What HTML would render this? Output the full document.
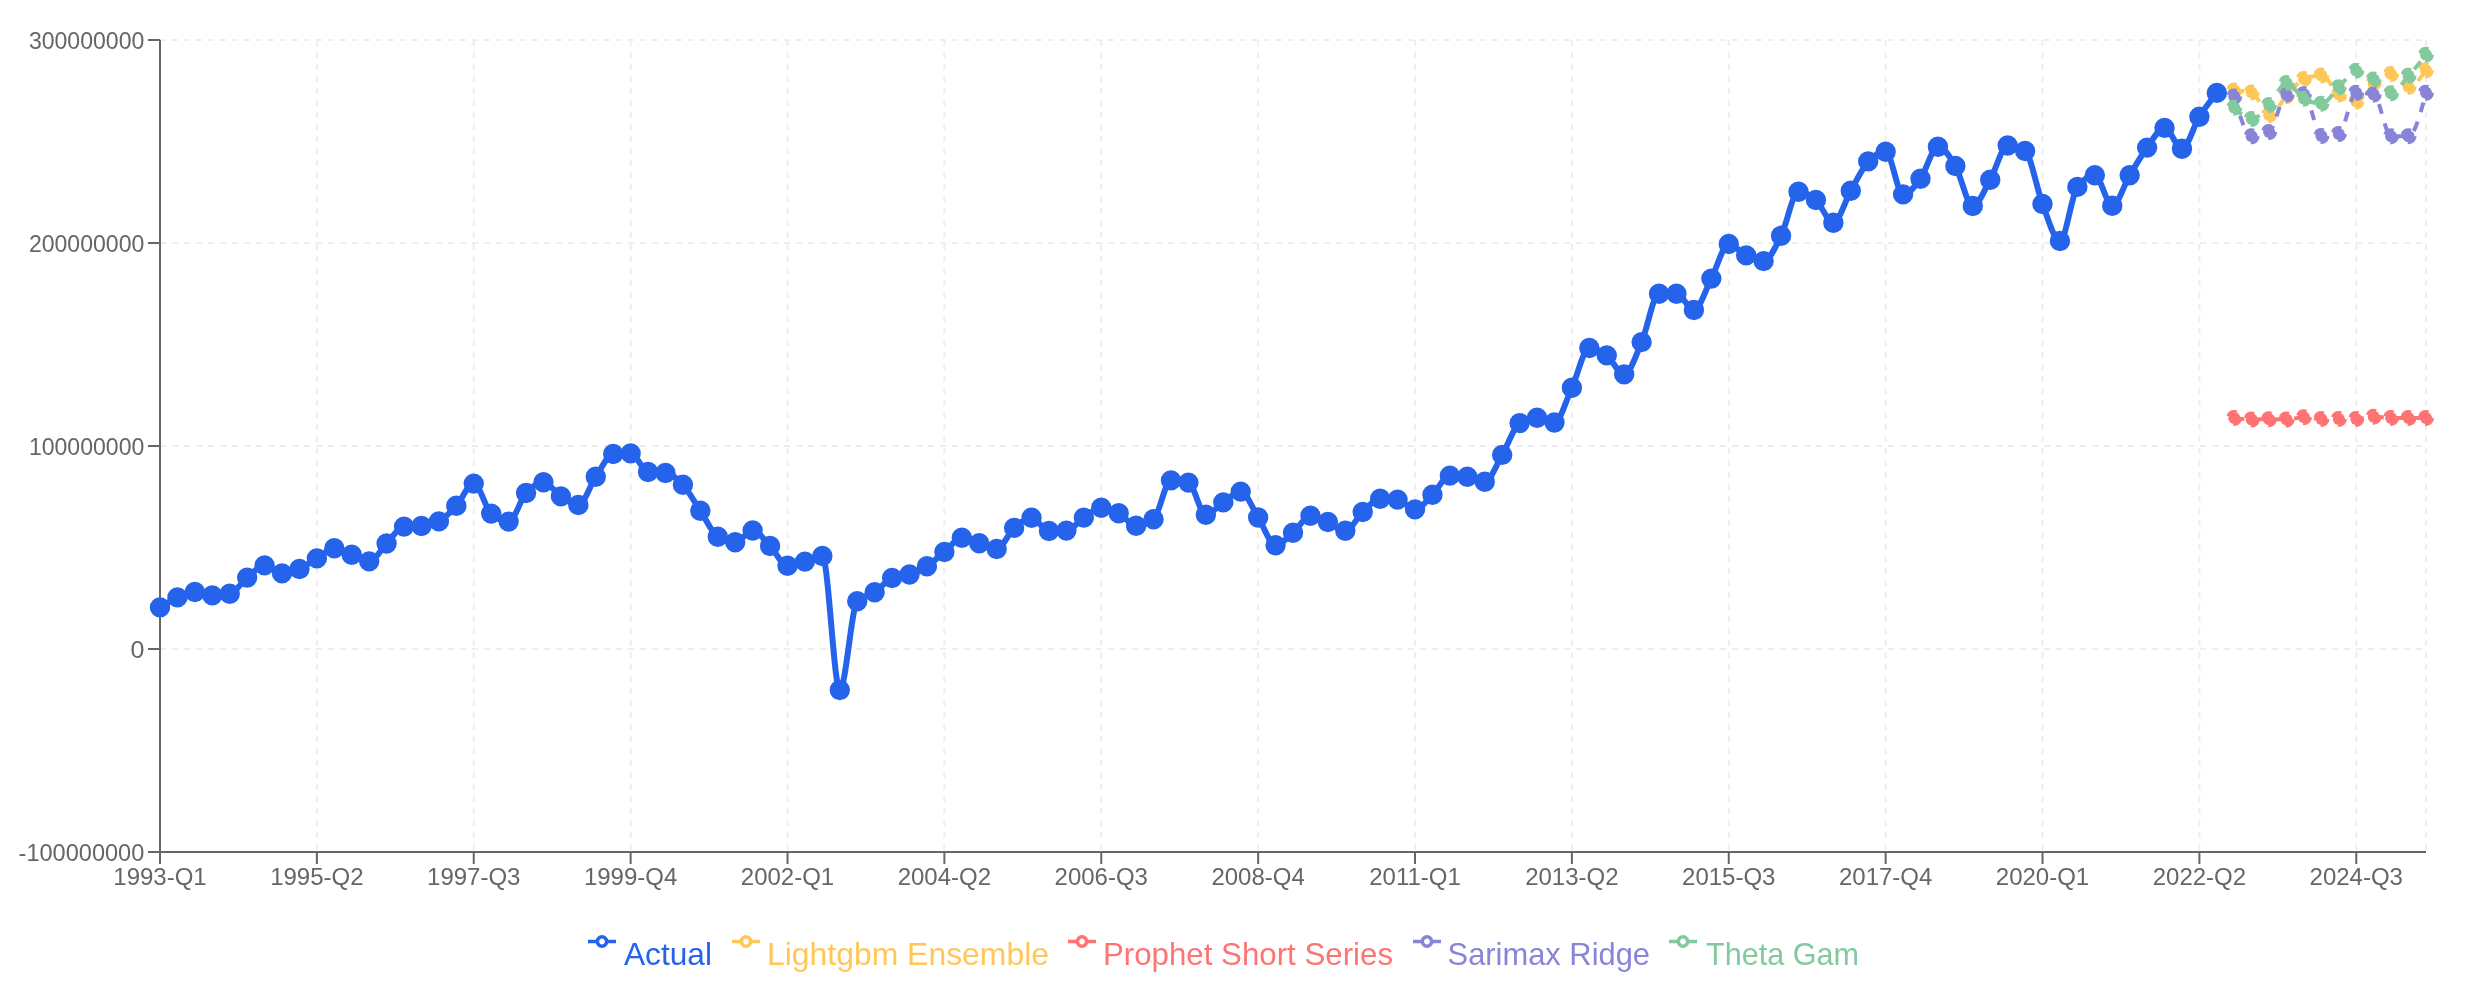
<!DOCTYPE html><html><head><meta charset="utf-8"><style>html,body{margin:0;padding:0;background:#fff;width:2486px;height:1000px;overflow:hidden}svg{display:block;will-change:transform}</style></head><body>
<svg width="2486" height="1000" viewBox="0 0 2486 1000" style="font-family:'Liberation Sans', sans-serif">
<g stroke="#eeeeee" stroke-width="2" stroke-dasharray="6 6" fill="none">
<line x1="160" y1="40.00" x2="2426" y2="40.00"/>
<line x1="160" y1="243.00" x2="2426" y2="243.00"/>
<line x1="160" y1="446.00" x2="2426" y2="446.00"/>
<line x1="160" y1="649.00" x2="2426" y2="649.00"/>
<line x1="160" y1="852.00" x2="2426" y2="852.00"/>
<line x1="160.00" y1="40" x2="160.00" y2="851"/>
<line x1="316.88" y1="40" x2="316.88" y2="851"/>
<line x1="473.75" y1="40" x2="473.75" y2="851"/>
<line x1="630.63" y1="40" x2="630.63" y2="851"/>
<line x1="787.51" y1="40" x2="787.51" y2="851"/>
<line x1="944.38" y1="40" x2="944.38" y2="851"/>
<line x1="1101.26" y1="40" x2="1101.26" y2="851"/>
<line x1="1258.14" y1="40" x2="1258.14" y2="851"/>
<line x1="1415.02" y1="40" x2="1415.02" y2="851"/>
<line x1="1571.89" y1="40" x2="1571.89" y2="851"/>
<line x1="1728.77" y1="40" x2="1728.77" y2="851"/>
<line x1="1885.65" y1="40" x2="1885.65" y2="851"/>
<line x1="2042.52" y1="40" x2="2042.52" y2="851"/>
<line x1="2199.40" y1="40" x2="2199.40" y2="851"/>
<line x1="2356.28" y1="40" x2="2356.28" y2="851"/>
<line x1="2426.00" y1="40" x2="2426.00" y2="851"/>
</g>
<g stroke="#666" stroke-width="2" fill="none">
<line x1="160" y1="852" x2="2426" y2="852"/>
<line x1="160" y1="40" x2="160" y2="852"/>
<line x1="148" y1="40.00" x2="160" y2="40.00"/>
<line x1="148" y1="243.00" x2="160" y2="243.00"/>
<line x1="148" y1="446.00" x2="160" y2="446.00"/>
<line x1="148" y1="649.00" x2="160" y2="649.00"/>
<line x1="148" y1="852.00" x2="160" y2="852.00"/>
<line x1="160.00" y1="852" x2="160.00" y2="864"/>
<line x1="316.88" y1="852" x2="316.88" y2="864"/>
<line x1="473.75" y1="852" x2="473.75" y2="864"/>
<line x1="630.63" y1="852" x2="630.63" y2="864"/>
<line x1="787.51" y1="852" x2="787.51" y2="864"/>
<line x1="944.38" y1="852" x2="944.38" y2="864"/>
<line x1="1101.26" y1="852" x2="1101.26" y2="864"/>
<line x1="1258.14" y1="852" x2="1258.14" y2="864"/>
<line x1="1415.02" y1="852" x2="1415.02" y2="864"/>
<line x1="1571.89" y1="852" x2="1571.89" y2="864"/>
<line x1="1728.77" y1="852" x2="1728.77" y2="864"/>
<line x1="1885.65" y1="852" x2="1885.65" y2="864"/>
<line x1="2042.52" y1="852" x2="2042.52" y2="864"/>
<line x1="2199.40" y1="852" x2="2199.40" y2="864"/>
<line x1="2356.28" y1="852" x2="2356.28" y2="864"/>
</g>
<g fill="#666" font-size="24">
<text x="144.3" y="49.00" text-anchor="end" textLength="115.4" lengthAdjust="spacingAndGlyphs">300000000</text>
<text x="144.3" y="252.00" text-anchor="end" textLength="115.4" lengthAdjust="spacingAndGlyphs">200000000</text>
<text x="144.3" y="455.00" text-anchor="end" textLength="115.4" lengthAdjust="spacingAndGlyphs">100000000</text>
<text x="144.3" y="658.00" text-anchor="end" textLength="13.9" lengthAdjust="spacingAndGlyphs">0</text>
<text x="144.3" y="861.00" text-anchor="end" textLength="125.7" lengthAdjust="spacingAndGlyphs">-100000000</text>
<text x="160.00" y="885" text-anchor="middle">1993-Q1</text>
<text x="316.88" y="885" text-anchor="middle">1995-Q2</text>
<text x="473.75" y="885" text-anchor="middle">1997-Q3</text>
<text x="630.63" y="885" text-anchor="middle">1999-Q4</text>
<text x="787.51" y="885" text-anchor="middle">2002-Q1</text>
<text x="944.38" y="885" text-anchor="middle">2004-Q2</text>
<text x="1101.26" y="885" text-anchor="middle">2006-Q3</text>
<text x="1258.14" y="885" text-anchor="middle">2008-Q4</text>
<text x="1415.02" y="885" text-anchor="middle">2011-Q1</text>
<text x="1571.89" y="885" text-anchor="middle">2013-Q2</text>
<text x="1728.77" y="885" text-anchor="middle">2015-Q3</text>
<text x="1885.65" y="885" text-anchor="middle">2017-Q4</text>
<text x="2042.52" y="885" text-anchor="middle">2020-Q1</text>
<text x="2199.40" y="885" text-anchor="middle">2022-Q2</text>
<text x="2356.28" y="885" text-anchor="middle">2024-Q3</text>
</g>
<path d="M160.00,607.40C165.81,603.68,171.62,599.97,177.43,597.40C183.24,594.83,189.05,592.00,194.86,592.00C200.67,592.00,206.48,595.40,212.29,595.40C218.10,595.40,223.91,594.87,229.72,593.80C235.53,592.73,241.34,582.33,247.15,577.60C252.96,572.87,258.77,565.40,264.58,565.40C270.39,565.40,276.21,573.40,282.02,573.40C287.83,573.40,293.64,571.50,299.45,569.00C305.26,566.50,311.07,561.87,316.88,558.40C322.69,554.93,328.50,548.20,334.31,548.20C340.12,548.20,345.93,552.60,351.74,554.80C357.55,557.00,363.36,561.40,369.17,561.40C374.98,561.40,380.79,549.30,386.60,543.50C392.41,537.70,398.22,527.00,404.03,526.60C409.84,526.20,415.65,526.40,421.46,526.00C427.27,525.60,433.08,524.47,438.89,521.40C444.70,518.33,450.51,512.10,456.32,505.80C462.13,499.50,467.94,483.60,473.75,483.60C479.56,483.60,485.37,508.27,491.18,513.60C496.99,518.93,502.81,521.60,508.62,521.60C514.43,521.60,520.24,499.57,526.05,493.00C531.86,486.43,537.67,482.20,543.48,482.20C549.29,482.20,555.10,492.60,560.91,496.40C566.72,500.20,572.53,505.00,578.34,505.00C584.15,505.00,589.96,485.30,595.77,476.80C601.58,468.30,607.39,454.40,613.20,454.00C619.01,453.60,624.82,453.40,630.63,453.40C636.44,453.40,642.25,471.33,648.06,472.00C653.87,472.67,659.68,472.33,665.49,473.00C671.30,473.67,677.11,478.40,682.92,484.70C688.73,491.00,694.54,502.12,700.35,510.80C706.16,519.48,711.97,533.13,717.78,536.80C723.59,540.47,729.41,542.30,735.22,542.30C741.03,542.30,746.84,530.50,752.65,530.50C758.46,530.50,764.27,540.13,770.08,546.00C775.89,551.87,781.70,565.70,787.51,565.70C793.32,565.70,799.13,563.22,804.94,561.60C810.75,559.98,816.56,556.00,822.37,556.00C828.18,556.00,833.99,690.00,839.80,690.00C845.61,690.00,851.42,607.37,857.23,601.30C863.04,595.23,868.85,596.08,874.66,592.20C880.47,588.32,886.28,580.33,892.09,578.00C897.90,575.67,903.71,576.47,909.52,574.50C915.33,572.53,921.14,569.95,926.95,566.20C932.76,562.45,938.57,556.75,944.38,552.00C950.19,547.25,956.01,537.70,961.82,537.70C967.63,537.70,973.44,541.32,979.25,543.20C985.06,545.08,990.87,549.00,996.68,549.00C1002.49,549.00,1008.30,533.10,1014.11,527.90C1019.92,522.70,1025.73,517.80,1031.54,517.80C1037.35,517.80,1043.16,531.00,1048.97,531.00C1054.78,531.00,1060.59,530.87,1066.40,530.60C1072.21,530.33,1078.02,521.40,1083.83,517.60C1089.64,513.80,1095.45,507.80,1101.26,507.80C1107.07,507.80,1112.88,510.20,1118.69,513.20C1124.50,516.20,1130.31,525.80,1136.12,525.80C1141.93,525.80,1147.74,523.60,1153.55,519.20C1159.36,514.80,1165.17,480.40,1170.98,480.40C1176.79,480.40,1182.61,481.13,1188.42,482.60C1194.23,484.07,1200.04,514.80,1205.85,514.80C1211.66,514.80,1217.47,506.27,1223.28,502.40C1229.09,498.53,1234.90,491.60,1240.71,491.60C1246.52,491.60,1252.33,508.57,1258.14,517.50C1263.95,526.43,1269.76,545.20,1275.57,545.20C1281.38,545.20,1287.19,537.70,1293.00,532.80C1298.81,527.90,1304.62,515.80,1310.43,515.80C1316.24,515.80,1322.05,519.50,1327.86,522.00C1333.67,524.50,1339.48,530.80,1345.29,530.80C1351.10,530.80,1356.91,517.33,1362.72,512.00C1368.53,506.67,1374.34,498.80,1380.15,498.80C1385.96,498.80,1391.77,499.07,1397.58,499.60C1403.39,500.13,1409.21,509.40,1415.02,509.40C1420.83,509.40,1426.64,500.43,1432.45,494.80C1438.26,489.17,1444.07,475.60,1449.88,475.60C1455.69,475.60,1461.50,476.00,1467.31,476.80C1473.12,477.60,1478.93,481.80,1484.74,481.80C1490.55,481.80,1496.36,464.68,1502.17,454.90C1507.98,445.12,1513.79,426.63,1519.60,423.10C1525.41,419.57,1531.22,417.80,1537.03,417.80C1542.84,417.80,1548.65,422.50,1554.46,422.50C1560.27,422.50,1566.08,400.12,1571.89,387.70C1577.70,375.28,1583.51,348.00,1589.32,348.00C1595.13,348.00,1600.94,351.00,1606.75,355.40C1612.56,359.80,1618.37,374.40,1624.18,374.40C1629.99,374.40,1635.81,355.55,1641.62,342.10C1647.43,328.65,1653.24,293.70,1659.05,293.70C1664.86,293.70,1670.67,293.70,1676.48,293.70C1682.29,293.70,1688.10,310.00,1693.91,310.00C1699.72,310.00,1705.53,289.60,1711.34,278.60C1717.15,267.60,1722.96,244.00,1728.77,244.00C1734.58,244.00,1740.39,252.55,1746.20,255.40C1752.01,258.25,1757.82,261.10,1763.63,261.10C1769.44,261.10,1775.25,247.35,1781.06,235.80C1786.87,224.25,1792.68,191.80,1798.49,191.80C1804.30,191.80,1810.11,194.85,1815.92,200.00C1821.73,205.15,1827.54,222.70,1833.35,222.70C1839.16,222.70,1844.97,201.02,1850.78,190.80C1856.59,180.58,1862.41,167.80,1868.22,161.40C1874.03,155.00,1879.84,151.80,1885.65,151.80C1891.46,151.80,1897.27,194.40,1903.08,194.40C1908.89,194.40,1914.70,186.65,1920.51,178.70C1926.32,170.75,1932.13,146.70,1937.94,146.70C1943.75,146.70,1949.56,156.12,1955.37,166.00C1961.18,175.88,1966.99,206.00,1972.80,206.00C1978.61,206.00,1984.42,189.78,1990.23,179.70C1996.04,169.62,2001.85,145.50,2007.66,145.50C2013.47,145.50,2019.28,147.33,2025.09,151.00C2030.90,154.67,2036.71,189.00,2042.52,204.00C2048.33,219.00,2054.14,241.00,2059.95,241.00C2065.76,241.00,2071.57,194.63,2077.38,186.90C2083.19,179.17,2089.01,175.30,2094.82,175.30C2100.63,175.30,2106.44,205.70,2112.25,205.70C2118.06,205.70,2123.87,184.98,2129.68,175.30C2135.49,165.62,2141.30,155.50,2147.11,147.60C2152.92,139.70,2158.73,127.90,2164.54,127.90C2170.35,127.90,2176.16,148.70,2181.97,148.70C2187.78,148.70,2193.59,126.00,2199.40,116.70C2205.21,107.40,2211.02,100.15,2216.83,92.90" fill="none" stroke="#2563eb" stroke-width="6" stroke-linejoin="round"/>
<g fill="#2563eb" stroke="#2563eb" stroke-width="6">
<circle cx="160.00" cy="607.40" r="7.2"/>
<circle cx="177.43" cy="597.40" r="7.2"/>
<circle cx="194.86" cy="592.00" r="7.2"/>
<circle cx="212.29" cy="595.40" r="7.2"/>
<circle cx="229.72" cy="593.80" r="7.2"/>
<circle cx="247.15" cy="577.60" r="7.2"/>
<circle cx="264.58" cy="565.40" r="7.2"/>
<circle cx="282.02" cy="573.40" r="7.2"/>
<circle cx="299.45" cy="569.00" r="7.2"/>
<circle cx="316.88" cy="558.40" r="7.2"/>
<circle cx="334.31" cy="548.20" r="7.2"/>
<circle cx="351.74" cy="554.80" r="7.2"/>
<circle cx="369.17" cy="561.40" r="7.2"/>
<circle cx="386.60" cy="543.50" r="7.2"/>
<circle cx="404.03" cy="526.60" r="7.2"/>
<circle cx="421.46" cy="526.00" r="7.2"/>
<circle cx="438.89" cy="521.40" r="7.2"/>
<circle cx="456.32" cy="505.80" r="7.2"/>
<circle cx="473.75" cy="483.60" r="7.2"/>
<circle cx="491.18" cy="513.60" r="7.2"/>
<circle cx="508.62" cy="521.60" r="7.2"/>
<circle cx="526.05" cy="493.00" r="7.2"/>
<circle cx="543.48" cy="482.20" r="7.2"/>
<circle cx="560.91" cy="496.40" r="7.2"/>
<circle cx="578.34" cy="505.00" r="7.2"/>
<circle cx="595.77" cy="476.80" r="7.2"/>
<circle cx="613.20" cy="454.00" r="7.2"/>
<circle cx="630.63" cy="453.40" r="7.2"/>
<circle cx="648.06" cy="472.00" r="7.2"/>
<circle cx="665.49" cy="473.00" r="7.2"/>
<circle cx="682.92" cy="484.70" r="7.2"/>
<circle cx="700.35" cy="510.80" r="7.2"/>
<circle cx="717.78" cy="536.80" r="7.2"/>
<circle cx="735.22" cy="542.30" r="7.2"/>
<circle cx="752.65" cy="530.50" r="7.2"/>
<circle cx="770.08" cy="546.00" r="7.2"/>
<circle cx="787.51" cy="565.70" r="7.2"/>
<circle cx="804.94" cy="561.60" r="7.2"/>
<circle cx="822.37" cy="556.00" r="7.2"/>
<circle cx="839.80" cy="690.00" r="7.2"/>
<circle cx="857.23" cy="601.30" r="7.2"/>
<circle cx="874.66" cy="592.20" r="7.2"/>
<circle cx="892.09" cy="578.00" r="7.2"/>
<circle cx="909.52" cy="574.50" r="7.2"/>
<circle cx="926.95" cy="566.20" r="7.2"/>
<circle cx="944.38" cy="552.00" r="7.2"/>
<circle cx="961.82" cy="537.70" r="7.2"/>
<circle cx="979.25" cy="543.20" r="7.2"/>
<circle cx="996.68" cy="549.00" r="7.2"/>
<circle cx="1014.11" cy="527.90" r="7.2"/>
<circle cx="1031.54" cy="517.80" r="7.2"/>
<circle cx="1048.97" cy="531.00" r="7.2"/>
<circle cx="1066.40" cy="530.60" r="7.2"/>
<circle cx="1083.83" cy="517.60" r="7.2"/>
<circle cx="1101.26" cy="507.80" r="7.2"/>
<circle cx="1118.69" cy="513.20" r="7.2"/>
<circle cx="1136.12" cy="525.80" r="7.2"/>
<circle cx="1153.55" cy="519.20" r="7.2"/>
<circle cx="1170.98" cy="480.40" r="7.2"/>
<circle cx="1188.42" cy="482.60" r="7.2"/>
<circle cx="1205.85" cy="514.80" r="7.2"/>
<circle cx="1223.28" cy="502.40" r="7.2"/>
<circle cx="1240.71" cy="491.60" r="7.2"/>
<circle cx="1258.14" cy="517.50" r="7.2"/>
<circle cx="1275.57" cy="545.20" r="7.2"/>
<circle cx="1293.00" cy="532.80" r="7.2"/>
<circle cx="1310.43" cy="515.80" r="7.2"/>
<circle cx="1327.86" cy="522.00" r="7.2"/>
<circle cx="1345.29" cy="530.80" r="7.2"/>
<circle cx="1362.72" cy="512.00" r="7.2"/>
<circle cx="1380.15" cy="498.80" r="7.2"/>
<circle cx="1397.58" cy="499.60" r="7.2"/>
<circle cx="1415.02" cy="509.40" r="7.2"/>
<circle cx="1432.45" cy="494.80" r="7.2"/>
<circle cx="1449.88" cy="475.60" r="7.2"/>
<circle cx="1467.31" cy="476.80" r="7.2"/>
<circle cx="1484.74" cy="481.80" r="7.2"/>
<circle cx="1502.17" cy="454.90" r="7.2"/>
<circle cx="1519.60" cy="423.10" r="7.2"/>
<circle cx="1537.03" cy="417.80" r="7.2"/>
<circle cx="1554.46" cy="422.50" r="7.2"/>
<circle cx="1571.89" cy="387.70" r="7.2"/>
<circle cx="1589.32" cy="348.00" r="7.2"/>
<circle cx="1606.75" cy="355.40" r="7.2"/>
<circle cx="1624.18" cy="374.40" r="7.2"/>
<circle cx="1641.62" cy="342.10" r="7.2"/>
<circle cx="1659.05" cy="293.70" r="7.2"/>
<circle cx="1676.48" cy="293.70" r="7.2"/>
<circle cx="1693.91" cy="310.00" r="7.2"/>
<circle cx="1711.34" cy="278.60" r="7.2"/>
<circle cx="1728.77" cy="244.00" r="7.2"/>
<circle cx="1746.20" cy="255.40" r="7.2"/>
<circle cx="1763.63" cy="261.10" r="7.2"/>
<circle cx="1781.06" cy="235.80" r="7.2"/>
<circle cx="1798.49" cy="191.80" r="7.2"/>
<circle cx="1815.92" cy="200.00" r="7.2"/>
<circle cx="1833.35" cy="222.70" r="7.2"/>
<circle cx="1850.78" cy="190.80" r="7.2"/>
<circle cx="1868.22" cy="161.40" r="7.2"/>
<circle cx="1885.65" cy="151.80" r="7.2"/>
<circle cx="1903.08" cy="194.40" r="7.2"/>
<circle cx="1920.51" cy="178.70" r="7.2"/>
<circle cx="1937.94" cy="146.70" r="7.2"/>
<circle cx="1955.37" cy="166.00" r="7.2"/>
<circle cx="1972.80" cy="206.00" r="7.2"/>
<circle cx="1990.23" cy="179.70" r="7.2"/>
<circle cx="2007.66" cy="145.50" r="7.2"/>
<circle cx="2025.09" cy="151.00" r="7.2"/>
<circle cx="2042.52" cy="204.00" r="7.2"/>
<circle cx="2059.95" cy="241.00" r="7.2"/>
<circle cx="2077.38" cy="186.90" r="7.2"/>
<circle cx="2094.82" cy="175.30" r="7.2"/>
<circle cx="2112.25" cy="205.70" r="7.2"/>
<circle cx="2129.68" cy="175.30" r="7.2"/>
<circle cx="2147.11" cy="147.60" r="7.2"/>
<circle cx="2164.54" cy="127.90" r="7.2"/>
<circle cx="2181.97" cy="148.70" r="7.2"/>
<circle cx="2199.40" cy="116.70" r="7.2"/>
<circle cx="2216.83" cy="92.90" r="7.2"/>
</g>
<path d="M2234.26,90.60C2240.07,90.90,2245.88,91.20,2251.69,92.40C2257.50,93.60,2263.31,114.90,2269.12,114.90C2274.93,114.90,2280.74,102.00,2286.55,96.00C2292.36,90.00,2298.17,81.17,2303.98,78.90C2309.79,76.63,2315.61,75.50,2321.42,75.50C2327.23,75.50,2333.04,90.15,2338.85,94.50C2344.66,98.85,2350.47,101.60,2356.28,101.60C2362.09,101.60,2367.90,87.50,2373.71,82.90C2379.52,78.30,2385.33,74.00,2391.14,74.00C2396.95,74.00,2402.76,86.75,2408.57,86.75C2414.38,86.75,2420.19,78.50,2426.00,70.25" fill="none" stroke="#ffc658" stroke-width="4" stroke-dasharray="10 10"/>
<g fill="#ffc658" stroke="#ffc658" stroke-width="4" stroke-dasharray="10 10">
<circle cx="2234.26" cy="90.60" r="6"/>
<circle cx="2251.69" cy="92.40" r="6"/>
<circle cx="2269.12" cy="114.90" r="6"/>
<circle cx="2286.55" cy="96.00" r="6"/>
<circle cx="2303.98" cy="78.90" r="6"/>
<circle cx="2321.42" cy="75.50" r="6"/>
<circle cx="2338.85" cy="94.50" r="6"/>
<circle cx="2356.28" cy="101.60" r="6"/>
<circle cx="2373.71" cy="82.90" r="6"/>
<circle cx="2391.14" cy="74.00" r="6"/>
<circle cx="2408.57" cy="86.75" r="6"/>
<circle cx="2426.00" cy="70.25" r="6"/>
</g>
<path d="M2234.26,417.90C2240.07,418.70,2245.88,419.50,2251.69,419.50C2257.50,419.50,2263.31,419.20,2269.12,419.20C2274.93,419.20,2280.74,419.50,2286.55,419.50C2292.36,419.50,2298.17,417.20,2303.98,417.20C2309.79,417.20,2315.61,418.90,2321.42,418.90C2327.23,418.90,2333.04,418.90,2338.85,418.90C2344.66,418.90,2350.47,418.90,2356.28,418.90C2362.09,418.90,2367.90,416.70,2373.71,416.70C2379.52,416.70,2385.33,417.90,2391.14,417.90C2396.95,417.90,2402.76,417.90,2408.57,417.90C2414.38,417.90,2420.19,417.90,2426.00,417.90" fill="none" stroke="#ff7373" stroke-width="4" stroke-dasharray="10 10"/>
<g fill="#ff7373" stroke="#ff7373" stroke-width="4" stroke-dasharray="10 10">
<circle cx="2234.26" cy="417.90" r="6"/>
<circle cx="2251.69" cy="419.50" r="6"/>
<circle cx="2269.12" cy="419.20" r="6"/>
<circle cx="2286.55" cy="419.50" r="6"/>
<circle cx="2303.98" cy="417.20" r="6"/>
<circle cx="2321.42" cy="418.90" r="6"/>
<circle cx="2338.85" cy="418.90" r="6"/>
<circle cx="2356.28" cy="418.90" r="6"/>
<circle cx="2373.71" cy="416.70" r="6"/>
<circle cx="2391.14" cy="417.90" r="6"/>
<circle cx="2408.57" cy="417.90" r="6"/>
<circle cx="2426.00" cy="417.90" r="6"/>
</g>
<path d="M2234.26,96.50C2240.07,116.40,2245.88,136.30,2251.69,136.30C2257.50,136.30,2263.31,134.87,2269.12,132.00C2274.93,129.13,2280.74,95.03,2286.55,94.70C2292.36,94.37,2298.17,94.20,2303.98,94.20C2309.79,94.20,2315.61,136.00,2321.42,136.00C2327.23,136.00,2333.04,135.33,2338.85,134.00C2344.66,132.67,2350.47,92.80,2356.28,92.80C2362.09,92.80,2367.90,93.37,2373.71,94.50C2379.52,95.63,2385.33,136.20,2391.14,136.20C2396.95,136.20,2402.76,136.20,2408.57,136.20C2414.38,136.20,2420.19,114.50,2426.00,92.80" fill="none" stroke="#8884d8" stroke-width="4" stroke-dasharray="10 10"/>
<g fill="#8884d8" stroke="#8884d8" stroke-width="4" stroke-dasharray="10 10">
<circle cx="2234.26" cy="96.50" r="6"/>
<circle cx="2251.69" cy="136.30" r="6"/>
<circle cx="2269.12" cy="132.00" r="6"/>
<circle cx="2286.55" cy="94.70" r="6"/>
<circle cx="2303.98" cy="94.20" r="6"/>
<circle cx="2321.42" cy="136.00" r="6"/>
<circle cx="2338.85" cy="134.00" r="6"/>
<circle cx="2356.28" cy="92.80" r="6"/>
<circle cx="2373.71" cy="94.50" r="6"/>
<circle cx="2391.14" cy="136.20" r="6"/>
<circle cx="2408.57" cy="136.20" r="6"/>
<circle cx="2426.00" cy="92.80" r="6"/>
</g>
<path d="M2234.26,107.70C2240.07,113.35,2245.88,119.00,2251.69,119.00C2257.50,119.00,2263.31,111.00,2269.12,105.00C2274.93,99.00,2280.74,83.00,2286.55,83.00C2292.36,83.00,2298.17,95.37,2303.98,98.70C2309.79,102.03,2315.61,103.70,2321.42,103.70C2327.23,103.70,2333.04,92.80,2338.85,87.30C2344.66,81.80,2350.47,70.70,2356.28,70.70C2362.09,70.70,2367.90,75.83,2373.71,79.60C2379.52,83.37,2385.33,93.30,2391.14,93.30C2396.95,93.30,2402.76,82.18,2408.57,75.75C2414.38,69.32,2420.19,62.01,2426.00,54.70" fill="none" stroke="#82ca9d" stroke-width="4" stroke-dasharray="10 10"/>
<g fill="#82ca9d" stroke="#82ca9d" stroke-width="4" stroke-dasharray="10 10">
<circle cx="2234.26" cy="107.70" r="6"/>
<circle cx="2251.69" cy="119.00" r="6"/>
<circle cx="2269.12" cy="105.00" r="6"/>
<circle cx="2286.55" cy="83.00" r="6"/>
<circle cx="2303.98" cy="98.70" r="6"/>
<circle cx="2321.42" cy="103.70" r="6"/>
<circle cx="2338.85" cy="87.30" r="6"/>
<circle cx="2356.28" cy="70.70" r="6"/>
<circle cx="2373.71" cy="79.60" r="6"/>
<circle cx="2391.14" cy="93.30" r="6"/>
<circle cx="2408.57" cy="75.75" r="6"/>
<circle cx="2426.00" cy="54.70" r="6"/>
</g>
<g transform="translate(588.0,927.5)"><path d="M0,14h9.333A4.667,4.667 0 1 1 18.667,14H28M18.667,14A4.667,4.667 0 1 1 9.333,14" fill="none" stroke="#2563eb" stroke-width="3.5"/></g>
<text x="624.0" y="965" fill="#2563eb" font-size="32" textLength="88.0" lengthAdjust="spacingAndGlyphs">Actual</text>
<g transform="translate(732.0,927.5)"><path d="M0,14h9.333A4.667,4.667 0 1 1 18.667,14H28M18.667,14A4.667,4.667 0 1 1 9.333,14" fill="none" stroke="#ffc658" stroke-width="3.5"/></g>
<text x="767.0" y="965" fill="#ffc658" font-size="32" textLength="282.0" lengthAdjust="spacingAndGlyphs">Lightgbm Ensemble</text>
<g transform="translate(1068.0,927.5)"><path d="M0,14h9.333A4.667,4.667 0 1 1 18.667,14H28M18.667,14A4.667,4.667 0 1 1 9.333,14" fill="none" stroke="#ff7373" stroke-width="3.5"/></g>
<text x="1103.0" y="965" fill="#ff7373" font-size="32" textLength="290.0" lengthAdjust="spacingAndGlyphs">Prophet Short Series</text>
<g transform="translate(1413.0,927.5)"><path d="M0,14h9.333A4.667,4.667 0 1 1 18.667,14H28M18.667,14A4.667,4.667 0 1 1 9.333,14" fill="none" stroke="#8884d8" stroke-width="3.5"/></g>
<text x="1447.6" y="965" fill="#8884d8" font-size="32" textLength="202.4" lengthAdjust="spacingAndGlyphs">Sarimax Ridge</text>
<g transform="translate(1669.0,927.5)"><path d="M0,14h9.333A4.667,4.667 0 1 1 18.667,14H28M18.667,14A4.667,4.667 0 1 1 9.333,14" fill="none" stroke="#82ca9d" stroke-width="3.5"/></g>
<text x="1706.0" y="965" fill="#82ca9d" font-size="32" textLength="153.0" lengthAdjust="spacingAndGlyphs">Theta Gam</text>
</svg></body></html>
